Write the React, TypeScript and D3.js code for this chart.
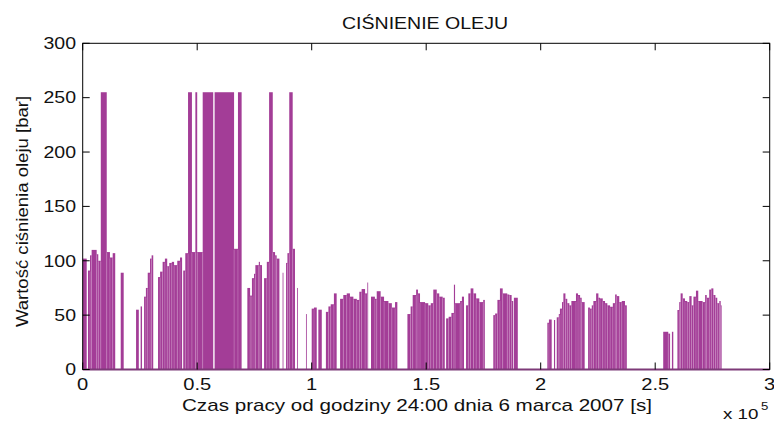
import React from 'react';
import * as d3 from 'd3';

// czas w tysiacach sekund (poczatek odcinka), cisnienie w barach do nastepnego punktu
const czas = [
  0.0, 1.75, 2.3, 3.2, 3.9, 6.1, 6.8, 7.9, 10.5, 11.9, 13.1, 14.2, 16.6, 17.9,
  23.3, 24.5, 25.3, 25.9, 26.8, 27.6, 28.4, 29.4, 30.1, 30.8,
  32.9, 33.8, 34.9, 35.9, 36.9, 37.8, 38.9, 39.9, 41.3, 42.5, 43.4,
  43.9, 44.8, 46.0, 47.7, 49.2, 50.0, 52.4, 57.0, 57.6, 66.1, 67.8, 69.4,
  71.9, 73.1, 73.9, 74.8, 75.4, 76.9, 77.4, 78.3,
  79.2, 80.4, 81.4, 83.0, 84.0, 84.7, 85.9, 87.3, 87.6,
  88.8, 89.4, 90.2, 91.7, 92.7, 93.6, 93.9, 97.5, 97.8,
  100.0, 101.0, 102.2, 102.9, 104.4,
  106.2, 107.3, 108.3, 109.7, 110.9,
  112.4, 113.8, 115.3, 116.7, 118.2, 119.7, 120.8, 121.8, 123.3, 124.3, 124.6,
  125.9, 127.6, 128.4, 130.1, 131.6, 133.5, 135.0, 136.4, 137.4,
  141.8, 143.2, 144.1, 145.6, 146.4, 147.3, 149.5, 150.9, 152.0, 153.1, 154.6, 155.7, 157.2, 158.1,
  158.7, 159.8, 161.0, 162.1, 162.6, 164.8, 165.6, 166.5,
  167.4, 168.4, 169.4, 170.6, 171.8, 173.2, 174.9, 175.6,
  179.3, 180.1, 181.1, 182.2, 183.4, 185.4, 186.3, 187.3, 188.0, 188.3, 190.0,
  202.9, 203.6, 204.8, 205.8, 206.3,
  207.0, 207.9, 208.4, 209.3, 209.9, 210.8, 211.6, 212.5, 213.4, 215.4, 216.3, 217.2, 217.9, 219.2,
  220.7, 221.5, 222.3, 223.0, 224.2, 225.2, 225.9, 227.1, 228.1, 229.1, 230.3, 231.5, 232.5, 233.2, 234.3, 235.4, 236.8, 237.6,
  253.5, 255.7, 256.5, 257.3, 257.9,
  259.7, 260.5, 261.1, 262.0, 263.0, 264.0, 264.9, 265.9, 266.7, 267.8, 268.8, 270.7, 271.8, 272.5, 273.6, 274.5, 275.4, 276.3, 277.1, 278.0, 278.6, 279.0,
  300.0,
];
const cisnienie = [
  102, 0, 91, 105, 110, 106, 100, 255, 108, 103, 107, 0, 89, 0,
  55, 0, 58, 0, 67, 75, 89, 102, 105, 0,
  85, 90, 99, 102, 95, 98, 99, 96, 100, 103, 0,
  91, 107, 255, 108, 255, 108, 255, 0, 255, 111, 255, 0,
  75, 68, 84, 88, 96, 99, 96, 0,
  84, 99, 255, 108, 105, 102, 0, 89, 0,
  98, 107, 255, 111, 0, 75, 0, 51, 0,
  56, 57, 0, 55, 0,
  53, 58, 60, 70, 0,
  65, 68.5, 70, 67, 65, 64, 71.5, 74, 70, 80, 0,
  67, 65, 72, 67, 63, 61, 57, 62, 0,
  51, 58, 68.5, 73.5, 70, 62, 61, 59, 61, 73.5, 70, 67, 66, 0,
  47, 48.5, 52, 78, 61, 63, 67, 0,
  59, 70, 74.6, 70, 65.4, 62, 64, 0,
  50, 51.5, 64, 74.6, 70, 69, 68.5, 63, 0, 66, 0,
  43, 46, 0, 45.5, 0,
  48, 51, 56, 62, 70, 65, 61, 59, 63, 70, 68.5, 66, 62, 0,
  57, 56, 59, 63, 70, 66, 65.4, 63, 61, 59, 57.7, 61, 69, 67.5, 62, 63, 59, 0,
  34.7, 33, 0, 34.7, 0,
  54.7, 62, 70, 65.4, 63, 62, 67.5, 59, 67, 72.5, 63, 62, 68.5, 66, 73.5, 74.6, 68.5, 66, 61, 63, 59, 0,
  0,
];

const yTicks = [0, 50, 100, 150, 200, 250, 300];
const xTicks = [0, 0.5, 1, 1.5, 2, 2.5, 3];

const W = 774;
const H = 424;
const fiolet = '#a33d97';
const jasny = '#d9a6d3';
const font = '"Liberation Sans", Arial, sans-serif';

export default function App() {
  const x = d3.scaleLinear().domain([0, 300000]).range([82.7, 769.7]);
  const y = d3.scaleLinear().domain([0, 300]).range([369.5, 43.3]);

  const odcinki = czas.slice(0, -1).map((t, i) => ({
    t0: t * 1000,
    t1: czas[i + 1] * 1000,
    v: cisnienie[i],
    prev: i > 0 ? cisnienie[i - 1] : 0,
  }));

  const tick = 7;
  const [x0, x1] = x.range();
  const [y0, y1] = y.range();

  return (
    <svg width={W} height={H} style={{ position: 'absolute', left: 0, top: 0, background: '#fff' }}>
      <rect x={0} y={0} width={W} height={H} fill="#fff" />

      {/* slupki cisnienia */}
      <g>
        {odcinki.filter(d => d.v > 0).map((d, i) => (
          <rect key={'b' + i} x={x(d.t0)} y={y(d.v)} width={Math.max(0.8, x(d.t1) - x(d.t0))}
            height={y(0) - y(d.v)} fill={fiolet} />
        ))}
        {odcinki.filter(d => d.v > 0 && d.prev > 0).map((d, i) => (
          <line key={'s' + i} x1={x(d.t0)} x2={x(d.t0)} y1={y(Math.min(d.v, d.prev)) + 1} y2={y(0)}
            stroke={jasny} strokeWidth={0.7} opacity={0.5} />
        ))}
      </g>

      {/* ramka osi */}
      <rect x={x0} y={y1} width={x1 - x0} height={y0 - y1} fill="none" stroke="#000" strokeWidth={1} />
      <line x1={x(0)} x2={x(300000)} y1={y(0)} y2={y(0)} stroke="#7d3a78" strokeWidth={2} />

      {yTicks.map(v => (
        <g key={'yt' + v}>
          <line x1={x0} x2={x0 + tick} y1={y(v)} y2={y(v)} stroke="#000" />
          <line x1={x1} x2={x1 - tick} y1={y(v)} y2={y(v)} stroke="#000" />
          <text transform={`translate(76,${y(v)}) scale(1.22,1)`} textAnchor="end" dy="0.36em"
            fontFamily={font} fontSize={16} fill="#111">{v}</text>
        </g>
      ))}
      {xTicks.map(v => (
        <g key={'xt' + v}>
          <line x1={x(v * 1e5)} x2={x(v * 1e5)} y1={y0} y2={y0 - tick} stroke="#000" />
          <line x1={x(v * 1e5)} x2={x(v * 1e5)} y1={y1} y2={y1 + tick} stroke="#000" />
          <text transform={`translate(${x(v * 1e5)},390) scale(1.26,1)`} textAnchor="middle"
            fontFamily={font} fontSize={16} fill="#111">{v}</text>
        </g>
      ))}

      <text transform="translate(425,29) scale(1.15,1)" textAnchor="middle" fontFamily={font} fontSize={17} fill="#111">
        CIŚNIENIE OLEJU
      </text>
      <text transform="translate(417,411) scale(1.29,1)" textAnchor="middle" fontFamily={font} fontSize={16} fill="#111">
        Czas pracy od godziny 24:00 dnia 6 marca 2007 [s]
      </text>
      <text transform="translate(28,211.5) rotate(-90) scale(1.16,1)" textAnchor="middle" fontFamily={font} fontSize={16} fill="#111">
        Wartość ciśnienia oleju [bar]
      </text>
      <text transform="translate(723,419) scale(1.25,1)" fontFamily={font} fontSize={15} fill="#111">x 10</text>
      <text transform="translate(761,410) scale(1.2,1)" fontFamily={font} fontSize={11} fill="#111">5</text>
    </svg>
  );
}
